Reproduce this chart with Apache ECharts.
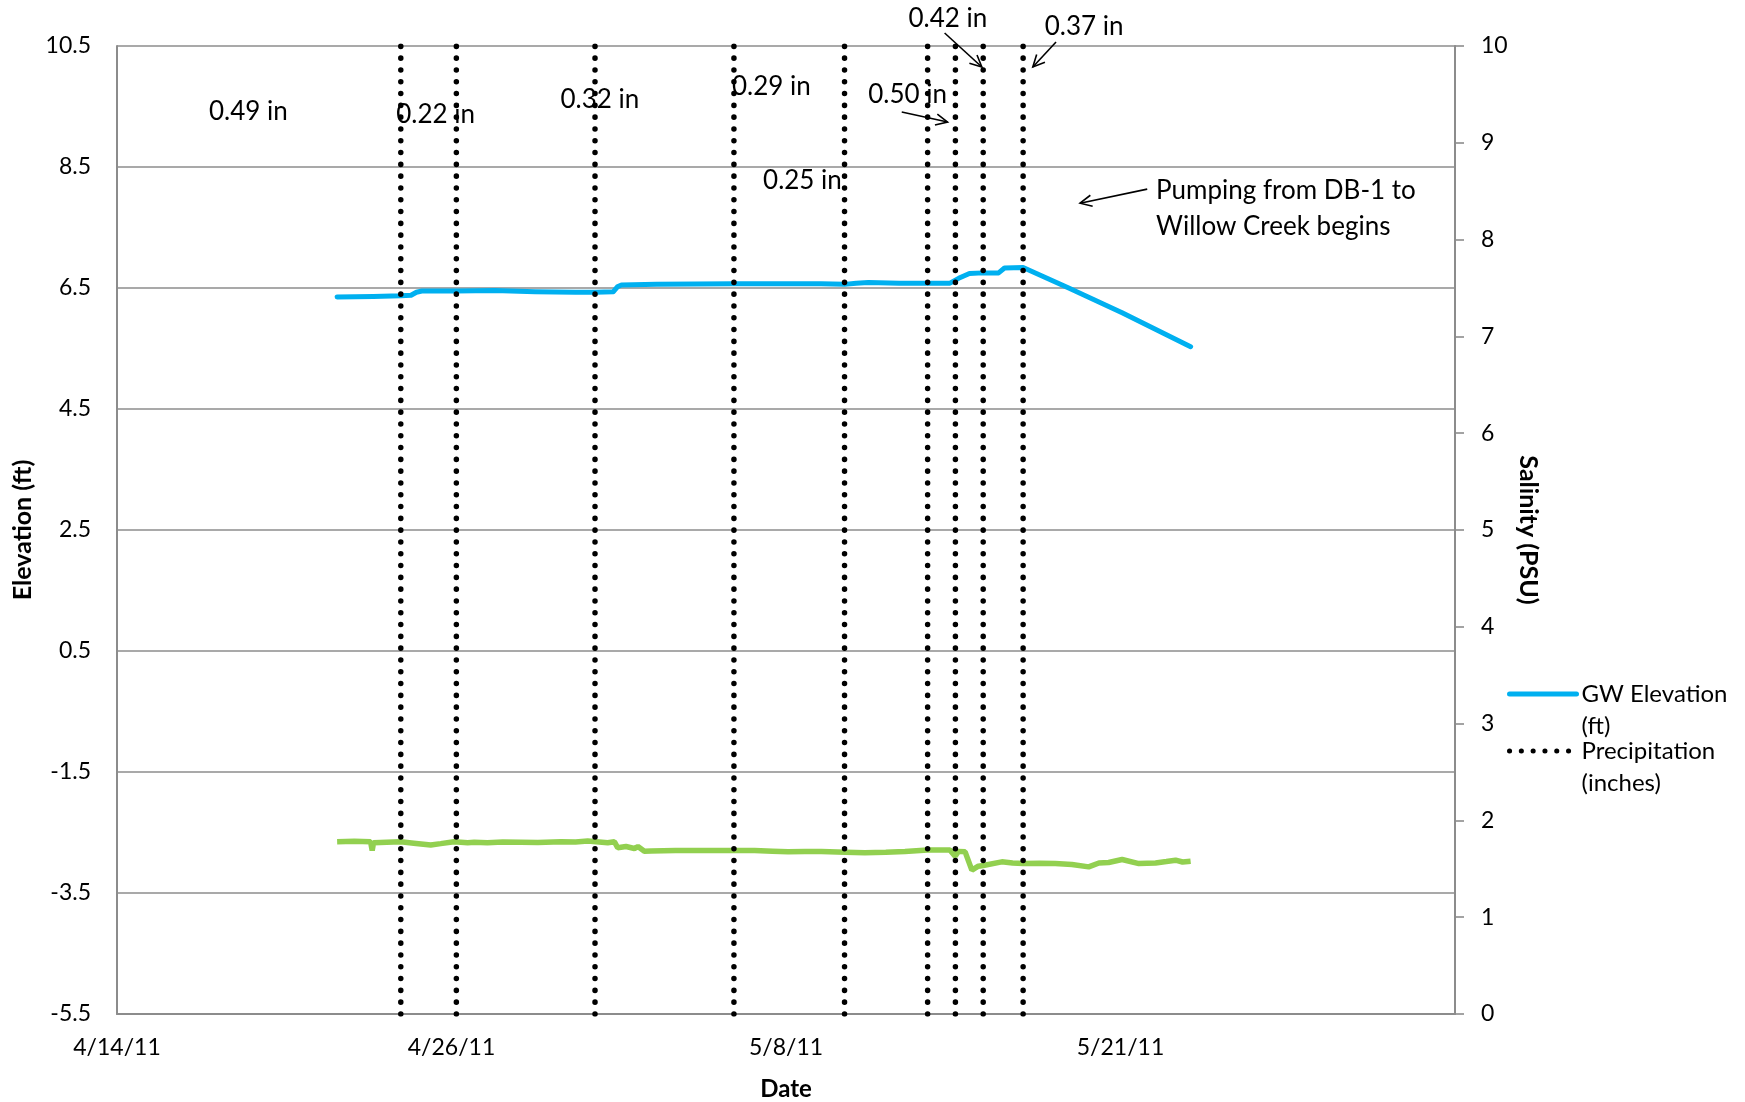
<!DOCTYPE html>
<html>
<head>
<meta charset="utf-8">
<script src="https://cdn.jsdelivr.net/npm/echarts@6/dist/echarts.min.js"></script>
<style>
html,body{margin:0;padding:0;background:#fff;}
#chart{width:1745px;height:1102px;}
</style>
</head>
<body>
<div id="chart"></div>
<script>
// x values are days since 4/14/11
const xTickLabels = ['4/14/11', '4/26/11', '5/8/11', '5/21/11'];
const xTickStep = 12.4;

// GW Elevation (ft) [day, ft]
const gwDays = [8.16, 9.5, 10.52, 10.9, 11.1, 11.3, 12.58, 14.0, 15.5, 17.0, 17.72, 18.4, 18.55, 18.7, 20.0, 22.87, 24.5, 26.1, 26.97, 27.4, 27.85, 29.0, 30.05, 30.88, 31.2, 31.6, 32.1, 32.68, 32.9, 33.59, 35.28, 37.26, 39.8];
const gwElev = [6.35, 6.36, 6.37, 6.38, 6.43, 6.45, 6.45, 6.46, 6.44, 6.43, 6.43, 6.44, 6.52, 6.55, 6.56, 6.57, 6.57, 6.57, 6.56, 6.58, 6.59, 6.58, 6.58, 6.58, 6.66, 6.74, 6.75, 6.75, 6.83, 6.84, 6.50, 6.09, 5.53];

// Salinity (PSU) [day, psu]
const salDays = [8.16, 8.8, 9.4, 9.46, 9.51, 10.0, 10.52, 11.0, 11.63, 12.0, 12.49, 13.0, 13.24, 13.73, 14.3, 14.97, 15.6, 16.46, 17.0, 17.45, 18.19, 18.44, 18.56, 18.87, 19.18, 19.31, 19.55, 19.8, 20.7, 21.66, 22.87, 23.64, 24.3, 24.88, 25.5, 26.11, 27.0, 27.72, 28.5, 29.21, 30.05, 30.88, 31.07, 31.19, 31.44, 31.69, 31.93, 32.11, 32.8, 33.2, 33.59, 34.2, 34.78, 35.4, 36.02, 36.4, 36.76, 37.26, 37.88, 38.5, 38.9, 39.24, 39.5, 39.8];
const salPsu = [1.78, 1.785, 1.78, 1.69, 1.77, 1.775, 1.78, 1.765, 1.745, 1.76, 1.78, 1.77, 1.775, 1.768, 1.777, 1.775, 1.772, 1.78, 1.776, 1.786, 1.77, 1.78, 1.717, 1.73, 1.71, 1.73, 1.682, 1.685, 1.688, 1.69, 1.689, 1.69, 1.682, 1.675, 1.678, 1.679, 1.672, 1.665, 1.672, 1.679, 1.693, 1.693, 1.631, 1.68, 1.675, 1.486, 1.527, 1.534, 1.572, 1.56, 1.554, 1.558, 1.554, 1.545, 1.52, 1.56, 1.565, 1.596, 1.554, 1.56, 1.575, 1.589, 1.57, 1.579];

// Precipitation events (day since 4/14/11)
const precipDays = [10.52, 12.58, 17.72, 22.87, 26.97, 30.05, 31.08, 32.11, 33.59];

// Annotations (data coordinates on day / elevation axes)
const annoText = ['0.49 in', '0.22 in', '0.32 in', '0.29 in', '0.25 in', '0.50 in', '0.42 in', '0.37 in'];
const annoDay  = [4.87, 11.81, 17.90, 24.26, 25.41, 29.31, 30.80, 35.85];
const annoElev = [9.41, 9.37, 9.62, 9.83, 8.28, 9.70, 10.95, 10.82];
const noteText = 'Pumping from DB-1 to\nWillow Creek begins';
const noteDay = 38.52, noteElev = 7.82;
const arrowFrom = [[30.68, 10.715], [34.81, 10.566], [29.09, 9.408], [38.19, 8.134]];
const arrowTo   = [[32.06, 10.153], [33.95, 10.153], [30.79, 9.243], [35.70, 7.902]];

const FONT = 'Lato';
const GRID_COLOR = '#8c8c8c';

const chart = echarts.init(document.getElementById('chart'), null, {renderer: 'canvas'});

const precipSeries = precipDays.map(d => ({
  name: 'Precipitation (inches)',
  type: 'line',
  yAxisIndex: 0,
  symbol: 'none',
  silent: true,
  data: [[d, -5.5], [d, 10.5]],
  lineStyle: {color: '#000', width: 5.5, type: [0.1, 11.7], cap: 'round'},
  itemStyle: {color: '#000'},
  z: 3
}));

const option = {
  backgroundColor: '#fff',
  animation: false,
  textStyle: {fontFamily: FONT},
  grid: {left: 117, right: 290, top: 46, bottom: 88, containLabel: false, outerBoundsMode: 'none'},
  legend: {
    data: ['GW Elevation (ft)', 'Precipitation (inches)'],
    orient: 'vertical',
    left: 1507,
    top: 646,
    padding: 0,
    itemWidth: 67,
    itemHeight: 2,
    itemGap: -39,
    formatter: n => n === 'GW Elevation (ft)' ? '\nGW Elevation\n(ft)' : '\nPrecipitation\n(inches)',
    textStyle: {fontFamily: FONT, fontSize: 24, color: '#000', lineHeight: 32},
    itemStyle: {opacity: 0},
    lineStyle: {width: 5},
    selectedMode: false
  },
  xAxis: {
    type: 'value',
    min: 0,
    max: xTickStep * 4,
    interval: xTickStep,
    axisLine: {show: true, onZero: false, lineStyle: {color: GRID_COLOR, width: 2}},
    axisTick: {show: false},
    splitLine: {show: false},
    axisLabel: {
      show: true, showMaxLabel: false, margin: 22,
      color: '#000', fontFamily: FONT, fontSize: 23,
      formatter: v => xTickLabels[Math.round(v / xTickStep)] || ''
    },
    name: 'Date',
    nameLocation: 'middle',
    nameGap: 63,
    nameMoveOverlap: false,
    nameTextStyle: {color: '#000', fontFamily: FONT, fontSize: 24, fontWeight: 'bold'}
  },
  yAxis: [
    {
      type: 'value',
      position: 'left',
      min: -5.5,
      max: 10.5,
      interval: 2,
      axisLine: {show: true, onZero: false, lineStyle: {color: GRID_COLOR, width: 2}},
      axisTick: {show: false},
      splitLine: {show: true, lineStyle: {color: GRID_COLOR, width: 1.6}},
      axisLabel: {color: '#000', fontFamily: FONT, fontSize: 23, margin: 26},
      name: 'Elevation (ft)',
      nameLocation: 'middle',
      nameRotate: 90,
      nameGap: 82,
      nameMoveOverlap: false,
      nameTextStyle: {color: '#000', fontFamily: FONT, fontSize: 25, fontWeight: 'bold'}
    },
    {
      type: 'value',
      position: 'right',
      min: 0,
      max: 10,
      interval: 1,
      axisLine: {show: true, onZero: false, lineStyle: {color: GRID_COLOR, width: 2}},
      axisTick: {show: true, inside: false, length: 9, lineStyle: {color: GRID_COLOR, width: 1.6}},
      splitLine: {show: false},
      axisLabel: {color: '#000', fontFamily: FONT, fontSize: 23, margin: 26},
      name: 'Salinity (PSU)',
      nameLocation: 'middle',
      nameRotate: -90,
      nameGap: 61,
      nameMoveOverlap: false,
      nameTextStyle: {color: '#000', fontFamily: FONT, fontSize: 25, fontWeight: 'bold'}
    }
  ],
  series: [
    {
      name: 'Salinity (PSU)',
      type: 'line',
      yAxisIndex: 1,
      symbol: 'none',
      silent: true,
      data: salDays.map((d, i) => [d, salPsu[i]]),
      lineStyle: {color: '#92D050', width: 5.5},
      itemStyle: {color: '#92D050'},
      z: 2
    },
    {
      name: 'GW Elevation (ft)',
      type: 'line',
      yAxisIndex: 0,
      symbol: 'none',
      silent: true,
      data: gwDays.map((d, i) => [d, gwElev[i]]),
      lineStyle: {color: '#00B0F0', width: 5, cap: 'round', join: 'round'},
      itemStyle: {color: '#00B0F0'},
      z: 2
    },
    ...precipSeries,
    {
      name: 'annotations',
      type: 'custom',
      yAxisIndex: 0,
      silent: true,
      clip: false,
      z: 10,
      data: annoDay.map((d, i) => [d, annoElev[i]]),
      encode: {x: 0, y: 1},
      renderItem: (params, api) => {
        const p = api.coord([api.value(0), api.value(1)]);
        return {
          type: 'text', x: p[0], y: p[1],
          style: {text: annoText[params.dataIndex], fontFamily: FONT, fontSize: 26, fill: '#000', align: 'center', verticalAlign: 'middle'}
        };
      }
    },
    {
      name: 'note',
      type: 'custom',
      yAxisIndex: 0,
      silent: true,
      clip: false,
      z: 10,
      data: [[noteDay, noteElev]],
      encode: {x: 0, y: 1},
      renderItem: (params, api) => {
        const p = api.coord([api.value(0), api.value(1)]);
        return {
          type: 'text', x: p[0], y: p[1],
          style: {text: noteText, fontFamily: FONT, fontSize: 26, lineHeight: 36, fill: '#000', align: 'left', verticalAlign: 'middle'}
        };
      }
    },
    {
      name: 'arrows',
      type: 'custom',
      yAxisIndex: 0,
      silent: true,
      clip: false,
      z: 10,
      data: arrowFrom.map((f, i) => [f[0], f[1], arrowTo[i][0], arrowTo[i][1]]),
      encode: {x: [0, 2], y: [1, 3]},
      renderItem: (params, api) => {
        const a = api.coord([api.value(0), api.value(1)]);
        const b = api.coord([api.value(2), api.value(3)]);
        const ang = Math.atan2(b[1] - a[1], b[0] - a[0]);
        const L = 13, w = 0.45;
        const h1 = [b[0] - L * Math.cos(ang - w), b[1] - L * Math.sin(ang - w)];
        const h2 = [b[0] - L * Math.cos(ang + w), b[1] - L * Math.sin(ang + w)];
        const st = {stroke: '#000', lineWidth: 1.6, fill: null};
        return {
          type: 'group',
          children: [
            {type: 'line', shape: {x1: a[0], y1: a[1], x2: b[0], y2: b[1]}, style: st},
            {type: 'polyline', shape: {points: [h1, b, h2]}, style: st}
          ]
        };
      }
    }
  ]
};

chart.setOption(option);
</script>
</body>
</html>
